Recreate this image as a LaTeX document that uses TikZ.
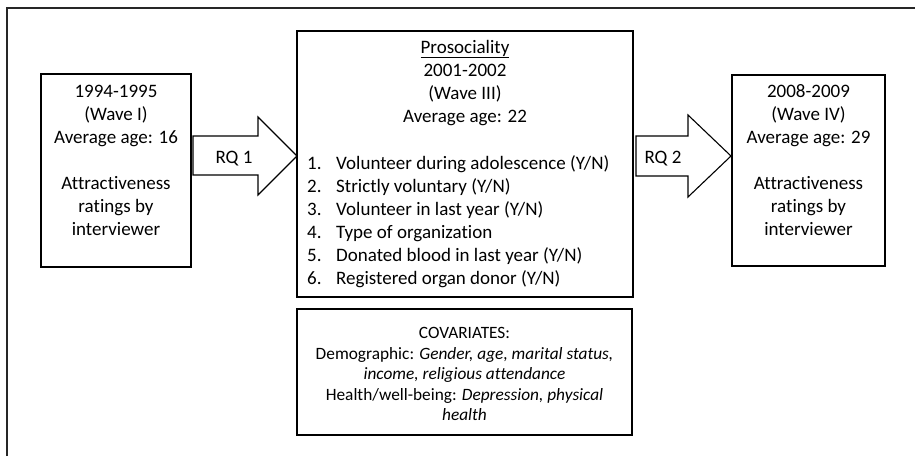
\documentclass[tikz,border=0pt]{standalone}
\usepackage{fontspec}
\setmainfont{Carlito}[Ligatures=NoCommon]
\usetikzlibrary{calc}
\begin{document}
\begin{tikzpicture}[x=1pt,y=-1pt,
  boxnode/.style={draw=black,line width=2.2pt,inner sep=0pt,outer sep=0pt,rectangle},
  bigtxt/.style={anchor=base,inner sep=0pt,font=\fontsize{19}{23}\selectfont},
  listtxt/.style={anchor=base west,inner sep=0pt,font=\fontsize{19}{23}\selectfont},
  smalltxt/.style={anchor=base,inner sep=0pt,font=\fontsize{17.3}{20.5}\selectfont},
  blockarrow/.style={draw=black,line width=1.1pt,fill=white,line join=miter}
]
\useasboundingbox (0,0) rectangle (915,456);
\fill[white] (0,0) rectangle (915,456);
\draw[line width=2pt,draw=black!85] (7,456) -- (7,7.5) -- (915,7.5);

% boxes
\node[boxnode,minimum width=150pt,minimum height=193pt] (w1) at (116,170.5) {};
\node[boxnode,minimum width=336pt,minimum height=266pt] (w3) at (465,164) {};
\node[boxnode,minimum width=335pt,minimum height=126pt] (cov) at (464.5,372) {};
\node[boxnode,minimum width=153pt,minimum height=191pt] (w4) at (808.5,170.5) {};

% left box text
\node[bigtxt] (l1) at (116,97.5) {1994-1995};
\node[bigtxt] (l2) at (116,120.5) {(Wave I)};
\node[bigtxt] (l3) at (116,143.5) {Average age: 16};
\node[bigtxt] (l4) at (116,189.5) {Attractiveness};
\node[bigtxt] (l5) at (116,212.5) {ratings by};
\node[bigtxt] (l6) at (116,235.5) {interviewer};

% right box text
\node[bigtxt] (r1) at (808.5,97.5) {2008-2009};
\node[bigtxt] (r2) at (808.5,120.5) {(Wave IV)};
\node[bigtxt] (r3) at (808.5,143.5) {Average age: 29};
\node[bigtxt] (r4) at (808.5,189.5) {Attractiveness};
\node[bigtxt] (r5) at (808.5,212.5) {ratings by};
\node[bigtxt] (r6) at (808.5,235.5) {interviewer};

% middle box text
\node[bigtxt] (m1) at (465,53) {\underline{Prosociality}};
\node[bigtxt] (m2) at (465,76) {2001-2002};
\node[bigtxt] (m3) at (465,99) {(Wave III)};
\node[bigtxt] (m4) at (465,122) {Average age: 22};
\foreach \i/\t [count=\k from 0] in {1/{Volunteer during adolescence (Y/N)},2/{Strictly voluntary (Y/N)},3/{Volunteer in last year (Y/N)},4/{Type of organization},5/{Donated blood in last year (Y/N)},6/{Registered organ donor (Y/N)}}{
  \node[listtxt] (n\i) at (307,169+23*\k) {\i.};
  \node[listtxt] (t\i) at (336,169+23*\k) {\t};
}

% covariates text
\node[smalltxt] (c1) at (464.5,338.5) {COVARIATES:};
\node[smalltxt] (c2) at (464.5,359) {Demographic: \textit{Gender, age, marital status,}};
\node[smalltxt] (c3) at (464.5,379.5) {\textit{income, religious attendance}};
\node[smalltxt] (c4) at (464.5,400) {Health/well-being: \textit{Depression, physical}};
\node[smalltxt] (c5) at (464.5,420.5) {\textit{health}};

% block arrows
\coordinate (a1s) at ($(w1.east)+(2,0)$);
\coordinate (a1t) at ($(w3.west)+(0,-8)$);
\draw[blockarrow] (a1s |- 0,136) -- (258,136) -- (258,117) -- (a1t) -- (258,195) -- (258,175) -- (a1s |- 0,175) -- cycle;
\node[bigtxt] (rq1) at (234,163) {RQ 1};

\coordinate (a2s) at ($(w3.east)+(3,0)$);
\coordinate (a2t) at ($(w4.west)+(-1,-14.5)$);
\draw[blockarrow] (a2s |- 0,136) -- (688,136) -- (688,115) -- (a2t) -- (688,197) -- (688,176) -- (a2s |- 0,176) -- cycle;
\node[bigtxt] (rq2) at (663,163) {RQ 2};
\end{tikzpicture}
\end{document}
